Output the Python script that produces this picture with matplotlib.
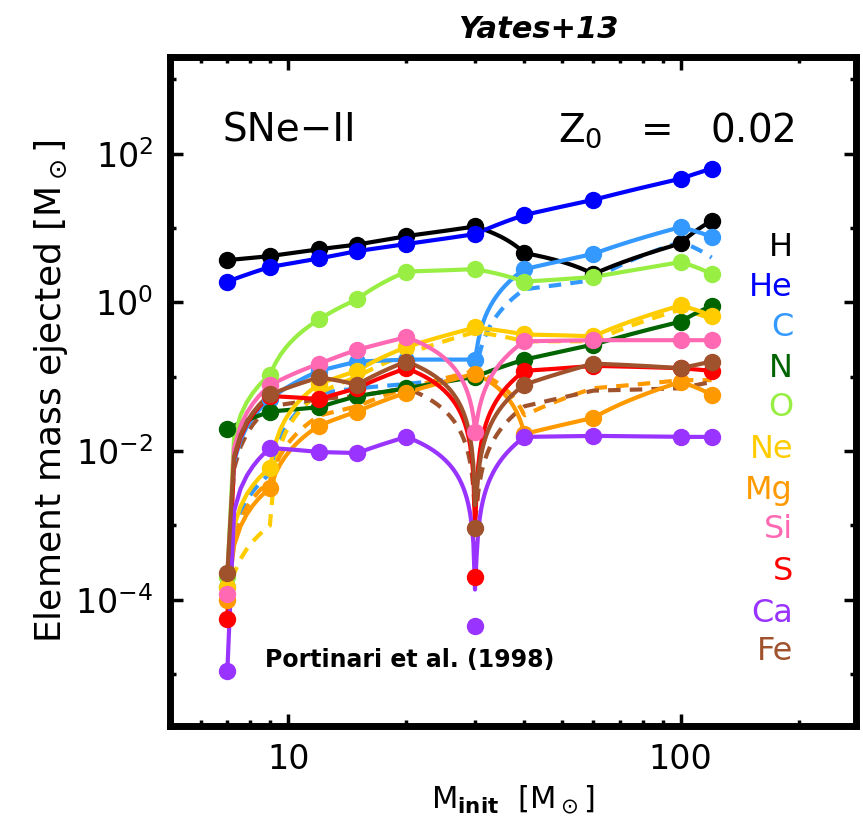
import matplotlib
matplotlib.use("Agg")
import matplotlib.pyplot as plt
import numpy as np

# Initial stellar masses [Msun]
masses = [7, 9, 12, 15, 20, 30, 40, 60, 100, 120]

# Ejected mass per element [Msun], Portinari et al. (1998), Z0 = 0.02
yield_H = [3.7, 4.2, 5.2, 6.0, 7.8, 10.5, 4.6, 2.4, 6.2, 12.5]
yield_He = [1.9, 3.0, 3.9, 4.9, 6.1, 8.3, 15.0, 24.0, 46.0, 63.0]
yield_C = [1.5e-4, 0.05, 0.12, 0.16, 0.17, 0.17, 2.8, 4.5, 10.3, 7.6]
yield_N = [0.02, 0.034, 0.039, 0.055, 0.07, 0.10, 0.17, 0.27, 0.55, 0.9]
yield_O = [2.0e-4, 0.107, 0.59, 1.1, 2.6, 2.8, 1.9, 2.2, 3.5, 2.4]
yield_Ne = [1.5e-4, 0.006, 0.08, 0.12, 0.25, 0.46, 0.37, 0.35, 0.91, 0.66]
yield_Mg = [1.0e-4, 0.0032, 0.022, 0.034, 0.061, 0.11, 0.017, 0.028, 0.085, 0.057]
yield_Si = [1.2e-4, 0.077, 0.15, 0.23, 0.34, 0.018, 0.30, 0.31, 0.31, 0.31]
yield_S = [5.5e-5, 0.055, 0.05, 0.07, 0.13, 2.0e-4, 0.12, 0.14, 0.13, 0.12]
yield_Ca = [1.1e-5, 0.011, 0.0097, 0.0094, 0.0155, 4.4e-5, 0.0155, 0.016, 0.0155, 0.0155]
yield_Fe = [2.3e-4, 0.058, 0.098, 0.078, 0.16, 9.1e-4, 0.078, 0.15, 0.13, 0.16]

# Alternative yields (dashed curves)
alt_C = [1.0e-4, 0.005, 0.06, 0.07, 0.08, 0.10, 1.5, 2.0, 6.5, 4.0]
alt_Ne = [1.0e-4, 0.001, 0.06, 0.10, 0.20, 0.40, 0.30, 0.30, 0.80, 0.60]
alt_Mg = [1.0e-4, 0.004, 0.03, 0.04, 0.07, 0.12, 0.03, 0.07, 0.09, 0.09]
alt_Fe = [2.0e-4, 0.04, 0.05, 0.055, 0.07, 8.0e-4, 0.04, 0.065, 0.07, 0.085]

elements = ["H", "He", "C", "N", "O", "Ne", "Mg", "Si", "S", "Ca", "Fe"]
colors = ["black", "#0000ff", "#3399ff", "#006400", "#99ee44", "#ffcc00",
          "#ff9900", "#ff69b4", "#ff0000", "#9933ff", "#a0522d"]
yields = [yield_H, yield_He, yield_C, yield_N, yield_O, yield_Ne,
          yield_Mg, yield_Si, yield_S, yield_Ca, yield_Fe]
dashed = {"C": alt_C, "Ne": alt_Ne, "Mg": alt_Mg, "Fe": alt_Fe}

fig = plt.figure(figsize=(8.63, 8.35), dpi=100)
ax = fig.add_axes([170 / 863, 109 / 835, 686 / 863, 669 / 835])

# curves are linear in mass between the tabulated points
m_fine = np.linspace(min(masses), max(masses), 400)

for el, col in zip(elements, colors):
    if el in dashed:
        ax.plot(m_fine, np.interp(m_fine, masses, dashed[el]), color=col,
                lw=3, ls=(0, (3, 2.2)), zorder=2)

for el, col, ys in zip(elements, colors, yields):
    ax.plot(m_fine, np.interp(m_fine, masses, ys), color=col, lw=3, zorder=3)
    ax.plot(masses, ys, "o", color=col, ms=11.5, mec=col, zorder=4)

ax.set_xscale("log")
ax.set_yscale("log")
ax.set_xlim(5, 280)
ax.set_ylim(2e-6, 2e3)

ax.set_xticks([10, 100])
ax.set_xticklabels(["10", "100"])
ax.set_xticks([6, 7, 8, 9, 20, 30, 40, 50, 60, 70, 80, 90, 200], minor=True)
ax.set_xticklabels([], minor=True)
ax.set_yticks([1e-4, 1e-2, 1e0, 1e2])
ax.set_yticklabels([r"10$^{-4}$", r"10$^{-2}$", r"10$^{0}$", r"10$^{2}$"])
ax.set_yticks([1e-5, 1e-3, 1e-1, 1e1, 1e3], minor=True)
ax.set_yticklabels([], minor=True)

ax.tick_params(which="both", direction="in", top=True, right=True,
               width=2.5, labelsize=24, pad=12)
ax.tick_params(which="major", length=9)
ax.tick_params(which="minor", length=4.5)
for sp in ax.spines.values():
    sp.set_linewidth(5)

ax.set_ylabel(r"Element mass ejected [M$_\odot$]", fontsize=26, labelpad=4)
ax.set_xlabel(r"M$_{\mathbf{init}}$  [M$_\odot$]", fontsize=22, labelpad=6)

def ax_xy(px, py):
    return (px - 170) / 686, (726 - py) / 669

ax.text(*ax_xy(222, 130), "SNe\u2212II", transform=ax.transAxes,
        fontsize=28, va="center", ha="left")
ax.text(*ax_xy(795, 130), r"Z$_0$   =   0.02", transform=ax.transAxes,
        fontsize=28, va="center", ha="right")
ax.text(*ax_xy(265, 660), "Portinari et al. (1998)", transform=ax.transAxes,
        fontsize=17, fontweight="bold", va="center", ha="left")

label_y = [247, 287, 328, 368, 408, 450, 490, 530, 572, 613, 652]
for el, col, py in zip(elements, colors, label_y):
    ax.text(*ax_xy(793, py), el, transform=ax.transAxes, color=col,
            fontsize=23, va="center", ha="right")

fig.text(538 / 863, 1 - 30 / 835, "Yates+13", fontsize=22, style="italic",
         fontweight="bold", ha="center", va="center")

fig.savefig("out.png", dpi=100)
